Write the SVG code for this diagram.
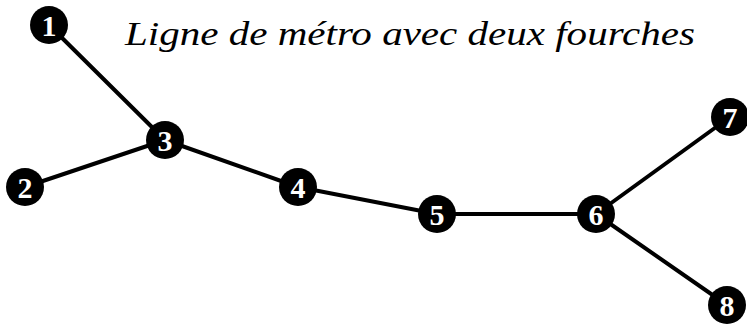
<svg xmlns="http://www.w3.org/2000/svg" width="747" height="328" viewBox="0 0 747 328">
<style>
.edge{stroke:#000;stroke-width:4;fill:none;stroke-linecap:round}
.node circle{fill:#000}
.node text{fill:#fff;font-weight:bold;font-size:30px;text-anchor:middle}
</style>
<rect width="747" height="328" fill="#fff"/>
<text x="125" y="45" font-family="Liberation Serif, serif" font-style="italic" font-size="34" textLength="570" lengthAdjust="spacingAndGlyphs">Ligne de métro avec deux fourches</text>
<g id="connectors">
<line class="edge" x1="49" y1="25" x2="165" y2="140"/>
<line class="edge" x1="25" y1="187" x2="165" y2="140"/>
<line class="edge" x1="165" y1="140" x2="298" y2="187"/>
<line class="edge" x1="298" y1="187" x2="437" y2="214"/>
<line class="edge" x1="437" y1="214" x2="596" y2="214"/>
<line class="edge" x1="596" y1="214" x2="730" y2="117"/>
<line class="edge" x1="596" y1="214" x2="727" y2="305"/>
</g>
<g id="node1" class="node" font-family="Liberation Serif, serif"><circle cx="49" cy="25" r="19"/><text x="49" y="35.5">1</text></g>
<g id="node2" class="node" font-family="Liberation Serif, serif"><circle cx="25" cy="187" r="19"/><text x="25" y="197.5">2</text></g>
<g id="node3" class="node" font-family="Liberation Serif, serif"><circle cx="165" cy="140" r="19"/><text x="165" y="150.5">3</text></g>
<g id="node4" class="node" font-family="Liberation Serif, serif"><circle cx="298" cy="187" r="19"/><text x="298" y="197.5">4</text></g>
<g id="node5" class="node" font-family="Liberation Serif, serif"><circle cx="437" cy="214" r="19"/><text x="437" y="224.5">5</text></g>
<g id="node6" class="node" font-family="Liberation Serif, serif"><circle cx="596" cy="214" r="19"/><text x="596" y="224.5">6</text></g>
<g id="node7" class="node" font-family="Liberation Serif, serif"><circle cx="730" cy="117" r="19"/><text x="730" y="127.5">7</text></g>
<g id="node8" class="node" font-family="Liberation Serif, serif"><circle cx="727" cy="305" r="19"/><text x="727" y="315.5">8</text></g>
</svg>
